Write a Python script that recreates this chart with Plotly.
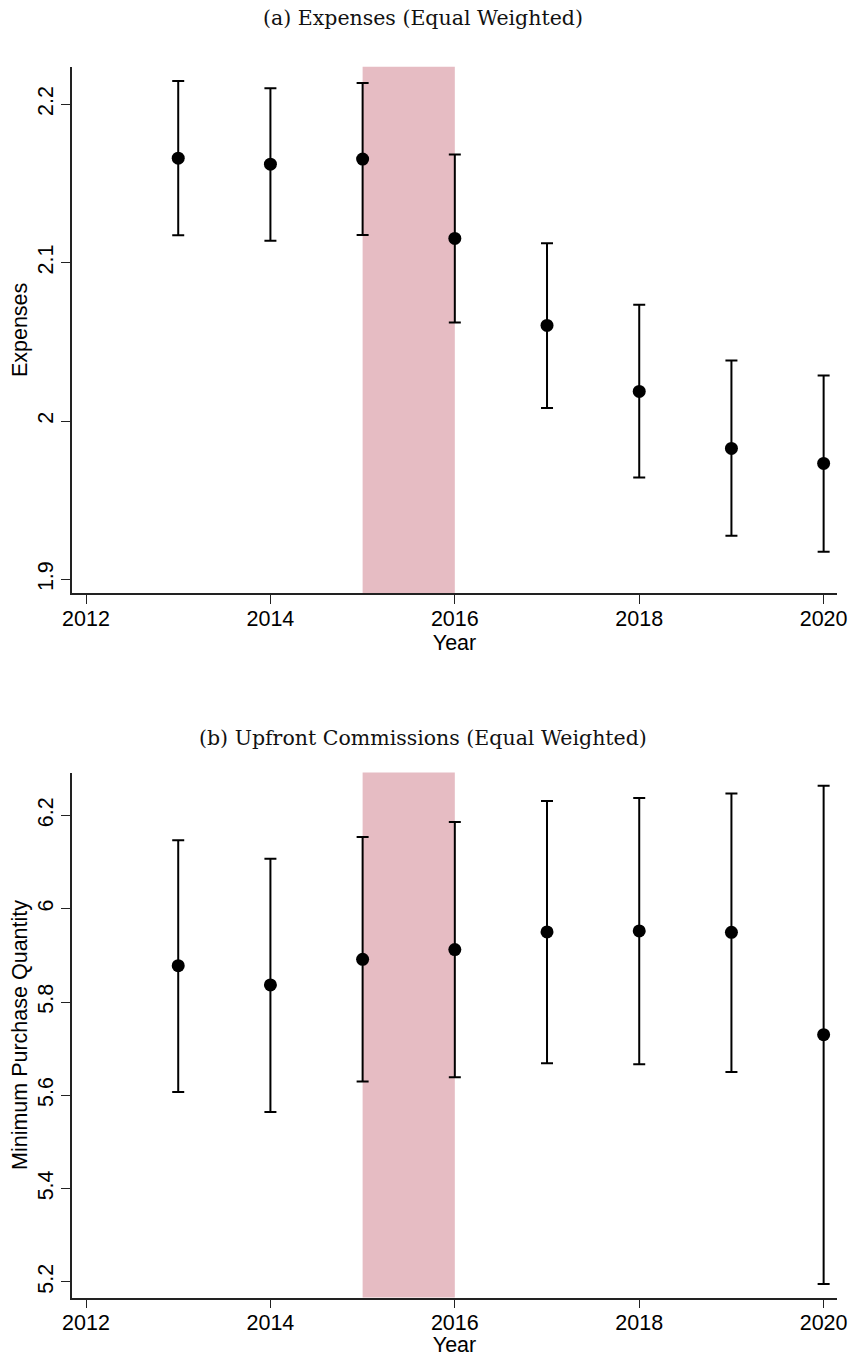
import plotly.graph_objects as go

# ---------------- data ----------------
years = [2013, 2014, 2015, 2016, 2017, 2018, 2019, 2020]

exp_point = [2.1660, 2.1622, 2.1654, 2.1153, 2.0604, 2.0187, 1.9827, 1.9732]
exp_upper = [2.2148, 2.2102, 2.2135, 2.1683, 2.1123, 2.0734, 2.0383, 2.0288]
exp_lower = [2.1174, 2.1138, 2.1175, 2.0622, 2.0083, 1.9644, 1.9275, 1.9174]

mpq_point = [5.8780, 5.8366, 5.8915, 5.9125, 5.9502, 5.9523, 5.9493, 5.7299]
mpq_upper = [6.1469, 6.1072, 6.1537, 6.1861, 6.2311, 6.2371, 6.2469, 6.2634]
mpq_lower = [5.6073, 5.5645, 5.6298, 5.6388, 5.6690, 5.6667, 5.6502, 5.1955]

shade_start, shade_end = 2015, 2016
x_ticks = [2012, 2014, 2016, 2018, 2020]
exp_ticks = [1.9, 2.0, 2.1, 2.2]
exp_ticklabels = ["1.9", "2", "2.1", "2.2"]
mpq_ticks = [5.2, 5.4, 5.6, 5.8, 6.0, 6.2]
mpq_ticklabels = ["5.2", "5.4", "5.6", "5.8", "6", "6.2"]

title_a = "(a) Expenses (Equal Weighted)"
title_b = "(b) Upfront Commissions (Equal Weighted)"

# ---------------- layout helpers ----------------
W, H = 850, 1357
SANS = "Liberation Sans, Arial, Helvetica, sans-serif"
SERIF = "DejaVu Serif, Liberation Serif, serif"
FS = 21.5
SHADE = "rgb(230,188,195)"


def ydom(top_px, bottom_px):
    return [1 - bottom_px / H, 1 - top_px / H]


fig = go.Figure()


def add_panel(point, upper, lower, xa, ya):
    fig.add_trace(go.Scatter(
        x=years, y=point, mode="markers",
        marker=dict(color="black", size=13),
        error_y=dict(type="data", symmetric=False,
                     array=[u - p for u, p in zip(upper, point)],
                     arrayminus=[p - l for p, l in zip(point, lower)],
                     color="black", thickness=2, width=6),
        xaxis=xa, yaxis=ya, showlegend=False, hoverinfo="skip"))


add_panel(exp_point, exp_upper, exp_lower, "x", "y")
add_panel(mpq_point, mpq_upper, mpq_lower, "x2", "y2")

axis_common = dict(showline=True, linecolor="#222", linewidth=1.5,
                   ticks="outside", ticklen=9, tickwidth=1.3, tickcolor="#222",
                   showgrid=False, zeroline=False, mirror=False, automargin=False,
                   tickfont=dict(family=SANS, size=FS, color="black"))

xdom = [72 / W, 837 / W]
xrange = [2011.848, 2020.145]
xtitle = dict(text="Year", font=dict(family=SANS, size=FS, color="black"), standoff=0)

fig.update_layout(
    template="none",
    width=W, height=H,
    margin=dict(l=0, r=0, t=0, b=0, autoexpand=False),
    paper_bgcolor="white", plot_bgcolor="white",
    xaxis=dict(domain=xdom, range=xrange, tickvals=x_ticks, anchor="y",
               ticklabelstandoff=-4, title=xtitle, **axis_common),
    yaxis=dict(domain=ydom(66.8, 593), range=[1.8914, 2.2237], tickvals=exp_ticks,
               ticktext=exp_ticklabels, tickangle=-90, anchor="x",
               title=dict(text="Expenses", font=dict(family=SANS, size=FS, color="black"), standoff=0),
               **axis_common),
    xaxis2=dict(domain=xdom, range=xrange, tickvals=x_ticks, anchor="y2",
                ticklabelstandoff=-4, title=xtitle, **axis_common),
    yaxis2=dict(domain=ydom(772.5, 1297.5), range=[5.1666, 6.292], tickvals=mpq_ticks,
                ticktext=mpq_ticklabels, tickangle=-90, anchor="x2",
                title=dict(text="Minimum Purchase Quantity", font=dict(family=SANS, size=FS, color="black"), standoff=0),
                **axis_common),
    shapes=[
        dict(type="rect", xref="x", yref="y domain", x0=shade_start, x1=shade_end, y0=0, y1=1,
             fillcolor=SHADE, line=dict(width=0), layer="below"),
        dict(type="rect", xref="x2", yref="y2 domain", x0=shade_start, x1=shade_end, y0=0, y1=1,
             fillcolor=SHADE, line=dict(width=0), layer="below"),
    ],
    annotations=[
        dict(text=title_a, xref="paper", yref="paper", x=423 / W, y=1 - 18 / H,
             xanchor="center", yanchor="middle", showarrow=False,
             font=dict(family=SERIF, size=20.5, color="#111")),
        dict(text=title_b, xref="paper", yref="paper", x=423 / W, y=1 - 738 / H,
             xanchor="center", yanchor="middle", showarrow=False,
             font=dict(family=SERIF, size=20.5, color="#111")),
    ],
)

fig.write_html("out.html")
